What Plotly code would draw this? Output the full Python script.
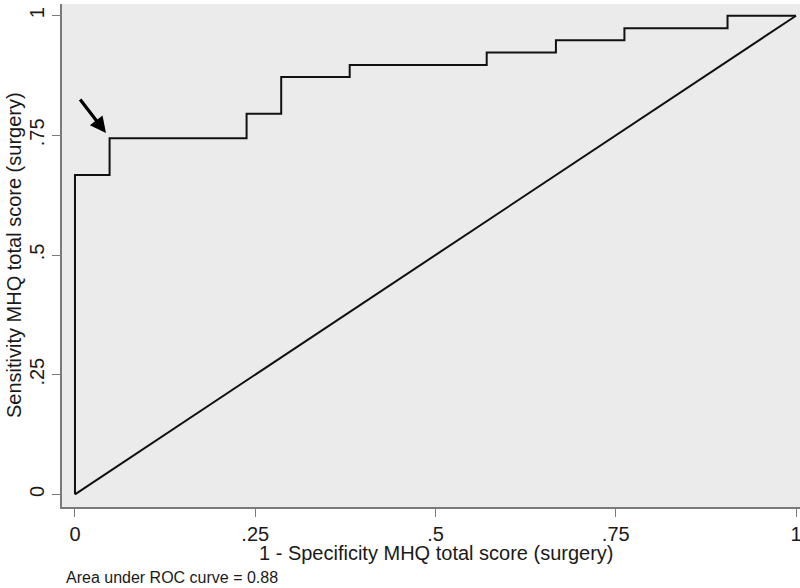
import plotly.graph_objects as go

# ROC step curve (1 - specificity, sensitivity)
fpr = [0, 0, 0.048, 0.238, 0.286, 0.381, 0.571, 0.667, 0.762, 0.905, 1]
tpr = [0, 0.667, 0.744, 0.795, 0.872, 0.897, 0.923, 0.949, 0.974, 1, 1]
ref_x = [0, 1]
ref_y = [0, 1]
tick_vals = [0, 0.25, 0.5, 0.75, 1]
tick_text = ["0", ".25", ".5", ".75", "1"]
arrow_point = (0.043, 0.755)
auc_text = "Area under ROC curve = 0.88"
x_title = "1 - Specificity MHQ total score (surgery)"
y_title = "Sensitivity MHQ total score (surgery)"

FONT = "Liberation Sans, Arial, sans-serif"
TXT = "#1a1a1a"
AX = "#7a7a7a"

L, R, T, B = 62, 0, 4, 81
plot_w = 800 - L - R
plot_h = 588 - T - B


def px(xp, yp):
    """pixel position -> paper coordinates"""
    return (xp - L) / plot_w, (588 - B - yp) / plot_h


fig = go.Figure()
fig.add_trace(go.Scatter(x=fpr, y=tpr, mode="lines", line=dict(color="#111111", width=2, shape="hv"),
                         showlegend=False, hoverinfo="skip", cliponaxis=False))
fig.add_trace(go.Scatter(x=ref_x, y=ref_y, mode="lines", line=dict(color="#111111", width=2),
                         showlegend=False, hoverinfo="skip", cliponaxis=False))

fig.add_annotation(x=arrow_point[0], y=arrow_point[1], xref="x", yref="y",
                   ax=-27, ay=-35, showarrow=True, arrowhead=2, arrowsize=1,
                   arrowwidth=3.2, arrowcolor="#000000", text="")

ax_, ay_ = px(64, 577)
fig.add_annotation(x=ax_, y=ay_, xref="paper", yref="paper",
                   text=auc_text, showarrow=False, xanchor="left", yanchor="middle",
                   font=dict(family=FONT, size=16, color=TXT))

tx, ty = px(436, 553)
fig.add_annotation(x=tx, y=ty, xref="paper", yref="paper", text=x_title, showarrow=False,
                   xanchor="center", yanchor="middle", font=dict(family=FONT, size=20, color=TXT))
tx, ty = px(14, 255)
fig.add_annotation(x=tx, y=ty, xref="paper", yref="paper", text=y_title, showarrow=False,
                   textangle=-90, xanchor="center", yanchor="middle",
                   font=dict(family=FONT, size=20, color=TXT))

fig.update_layout(
    width=800, height=588,
    margin=dict(l=L, r=R, t=T, b=B, pad=0, autoexpand=False),
    paper_bgcolor="white", plot_bgcolor="#ebebeb",
    font=dict(family=FONT, color=TXT),
    xaxis=dict(range=[-0.018, 1.0055], tickvals=tick_vals, ticktext=tick_text, automargin=False,
               showgrid=False, zeroline=False, showline=True, linecolor=AX, linewidth=1.5,
               ticks="outside", ticklen=8, tickcolor=AX, tickwidth=1.2, ticklabeloverflow="allow",
               tickfont=dict(family=FONT, size=20, color=TXT)),
    yaxis=dict(range=[-0.0265, 1.0245], tickvals=tick_vals, ticktext=tick_text, automargin=False,
               showgrid=False, zeroline=False, showline=True, linecolor=AX, linewidth=1.5,
               ticks="outside", ticklen=8, tickcolor=AX, tickwidth=1.2, tickangle=-90,
               ticklabeloverflow="allow",
               tickfont=dict(family=FONT, size=20, color=TXT)),
)

fig.write_html("out.html", config={"displayModeBar": False},
               post_script="document.body.style.margin='0';document.body.style.overflow='hidden';")
